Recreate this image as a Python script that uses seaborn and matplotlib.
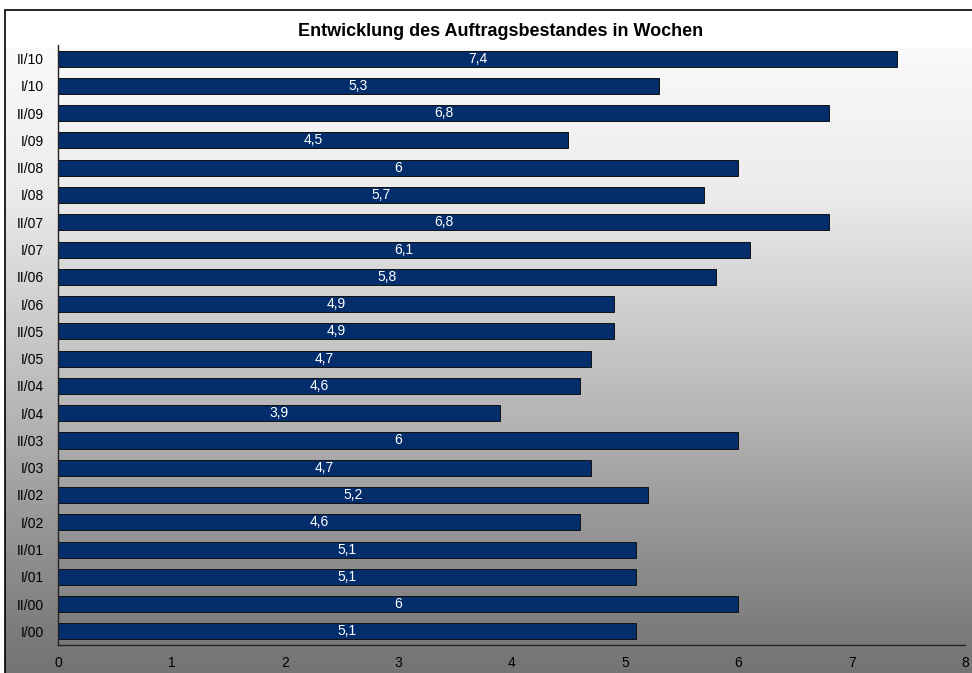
import numpy as np
import pandas as pd
import matplotlib
matplotlib.use("Agg")
import matplotlib.pyplot as plt
from matplotlib.patches import Rectangle
import seaborn as sns

# Half-year periods and order backlog in weeks
periods = ["I/00", "II/00", "I/01", "II/01", "I/02", "II/02", "I/03", "II/03",
           "I/04", "II/04", "I/05", "II/05", "I/06", "II/06", "I/07", "II/07",
           "I/08", "II/08", "I/09", "II/09", "I/10", "II/10"]
weeks = [5.1, 6, 5.1, 5.1, 4.6, 5.2, 4.7, 6,
         3.9, 4.6, 4.7, 4.9, 4.9, 5.8, 6.1, 6.8,
         5.7, 6, 4.5, 6.8, 5.3, 7.4]
x_ticks = [0, 1, 2, 3, 4, 5, 6, 7, 8]
title = "Entwicklung des Auftragsbestandes in Wochen"

df = pd.DataFrame({"period": periods, "weeks": weeks})
order = periods[::-1]  # newest period on top

sns.set_theme(style="white")
plt.rcParams["font.family"] = ["Liberation Sans", "DejaVu Sans"]

W, H = 972, 673
fig = plt.figure(figsize=(W / 100, H / 100), dpi=100)
fig.patch.set_facecolor("white")

# Vertical grey gradient behind the plot area
bg = fig.add_axes([5 / W, 0, 1 - 5 / W, (H - 48) / H], zorder=0)
rows = np.linspace(48, H, 400)
level = np.interp(rows, [48, 190, 330, 420, 490, 640, 673],
                  [250, 236, 202, 180, 160, 122, 116]) / 255.0
grad = np.repeat(level[:, None], 2, axis=1)
bg.imshow(np.dstack([grad, grad, grad]), aspect="auto",
          extent=[0, 1, 0, 1], interpolation="bilinear")
bg.set_axis_off()

# Outer frame line (top and left edges)
fig.add_artist(Rectangle((5 / W, -0.1), 1.2, (H - 10) / H + 0.1,
                         transform=fig.transFigure, fill=False,
                         edgecolor="black", linewidth=1.2, zorder=5))

ax = fig.add_axes([58 / W, (H - 645) / H, (965 - 58) / W, (645 - 45) / H], zorder=2)
ax.patch.set_alpha(0)

sns.barplot(data=df, x="weeks", y="period", order=order, orient="h",
            color="#032d6b", saturation=1, width=0.59,
            edgecolor="#111111", linewidth=0.7, ax=ax)

n = len(periods)
ax.set_xlim(0, 8)
ax.set_ylim(n - 0.5, -0.5)
ax.set_xticks(x_ticks)
ax.set_xticklabels([str(t) for t in x_ticks], fontsize=10, color="black")
ax.set_yticks(np.arange(n))
ax.set_yticklabels(order, fontsize=10, color="black")
ax.set_yticks(np.arange(-0.5, n), minor=True)
ax.tick_params(axis="y", which="major", length=0, pad=10)
ax.tick_params(axis="y", which="minor", length=4, width=1, color="#222222", direction="out")
ax.tick_params(axis="x", which="major", length=4, width=1, color="#222222",
               direction="out", pad=4)
ax.set_xlabel("")
ax.set_ylabel("")
for side in ["top", "right"]:
    ax.spines[side].set_visible(False)
for side in ["left", "bottom"]:
    ax.spines[side].set_color("#222222")
    ax.spines[side].set_linewidth(1)

# Value labels inside the bars
for i, p in enumerate(order):
    v = weeks[periods.index(p)]
    txt = f"{v:g}".replace(".", ",")
    ax.text(v / 2, i, txt, color="white", fontsize=10,
            ha="center", va="center", zorder=4)

fig.text(501 / W, (H - 31) / H, title,
         ha="center", va="center", fontsize=13, fontweight="bold", color="black")

fig.savefig("out.png", dpi=100, facecolor="white")
